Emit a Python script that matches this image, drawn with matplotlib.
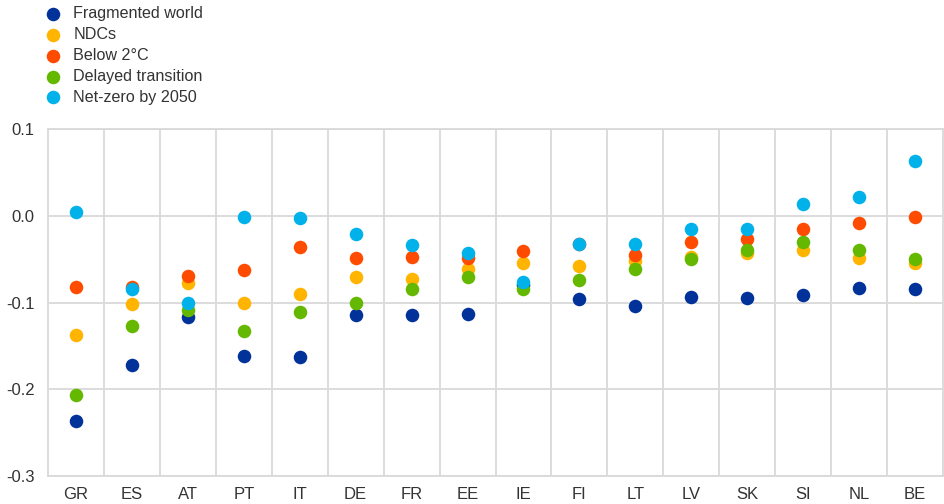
import matplotlib
matplotlib.use("Agg")
import matplotlib.pyplot as plt
import numpy as np

plt.rcParams["font.family"] = ["Liberation Sans", "DejaVu Sans"]

countries = ["GR", "ES", "AT", "PT", "IT", "DE", "FR", "EE", "IE", "FI",
             "LT", "LV", "SK", "SI", "NL", "BE"]

fragmented_world = [-0.237, -0.172, -0.117, -0.162, -0.163, -0.114, -0.114, -0.113,
                    -0.080, -0.096, -0.104, -0.094, -0.095, -0.091, -0.083, -0.084]
ndcs = [-0.138, -0.102, -0.077, -0.101, -0.090, -0.071, -0.073, -0.061,
        -0.054, -0.058, -0.052, -0.047, -0.043, -0.040, -0.049, -0.055]
below_2c = [-0.082, -0.082, -0.070, -0.062, -0.036, -0.049, -0.048, -0.049,
            -0.041, -0.033, -0.045, -0.030, -0.027, -0.015, -0.008, -0.002]
delayed_transition = [-0.207, -0.127, -0.109, -0.133, -0.111, -0.100, -0.084, -0.071,
                      -0.085, -0.074, -0.061, -0.050, -0.040, -0.030, -0.040, -0.050]
net_zero_2050 = [0.004, -0.085, -0.100, -0.002, -0.003, -0.021, -0.034, -0.043,
                 -0.076, -0.033, -0.033, -0.015, -0.015, 0.013, 0.022, 0.063]

series = [
    ("Fragmented world", fragmented_world, "#003299"),
    ("NDCs", ndcs, "#FFB400"),
    ("Below 2°C", below_2c, "#FF4B00"),
    ("Delayed transition", delayed_transition, "#65B800"),
    ("Net-zero by 2050", net_zero_2050, "#00B1EA"),
]

fig = plt.figure(figsize=(9.44, 5.04), dpi=100)
ax = fig.add_axes([0.0508, 0.0556, 0.9482, 0.6884])

x = np.arange(len(countries))
for label, vals, color in series:
    ax.scatter(x, vals, s=95, color=color, label=label, zorder=3, linewidths=0)

grid_col = "#d9d9d9"
ax.set_xlim(-0.5, len(countries) - 0.5)
ax.set_ylim(-0.3, 0.1)
ax.set_yticks([-0.3, -0.2, -0.1, 0.0, 0.1])
ax.set_yticklabels(["-0.3", "-0.2", "-0.1", "0.0", "0.1"])
ax.set_xticks(x)
ax.set_xticklabels(countries)
ax.yaxis.grid(True, color=grid_col, linewidth=1.3, zorder=0)
for b in np.arange(0.5, len(countries) - 0.5, 1.0):
    ax.axvline(b, color=grid_col, linewidth=1.3, zorder=0)
for sp in ax.spines.values():
    sp.set_color(grid_col)
    sp.set_linewidth(1.3)
ax.tick_params(axis="both", length=0, labelsize=12, colors="#333333")
ax.tick_params(axis="y", pad=9.5)
ax.tick_params(axis="x", pad=8)
ax.set_axisbelow(True)

handles, labels = ax.get_legend_handles_labels()
fig.legend(handles, labels, loc="upper left", bbox_to_anchor=(0.0406, 1.0),
           frameon=False, fontsize=11.6, labelspacing=0.36, handletextpad=0.78,
           handlelength=1.0, borderaxespad=0, labelcolor="#333333")

fig.savefig("out.png", dpi=100)
